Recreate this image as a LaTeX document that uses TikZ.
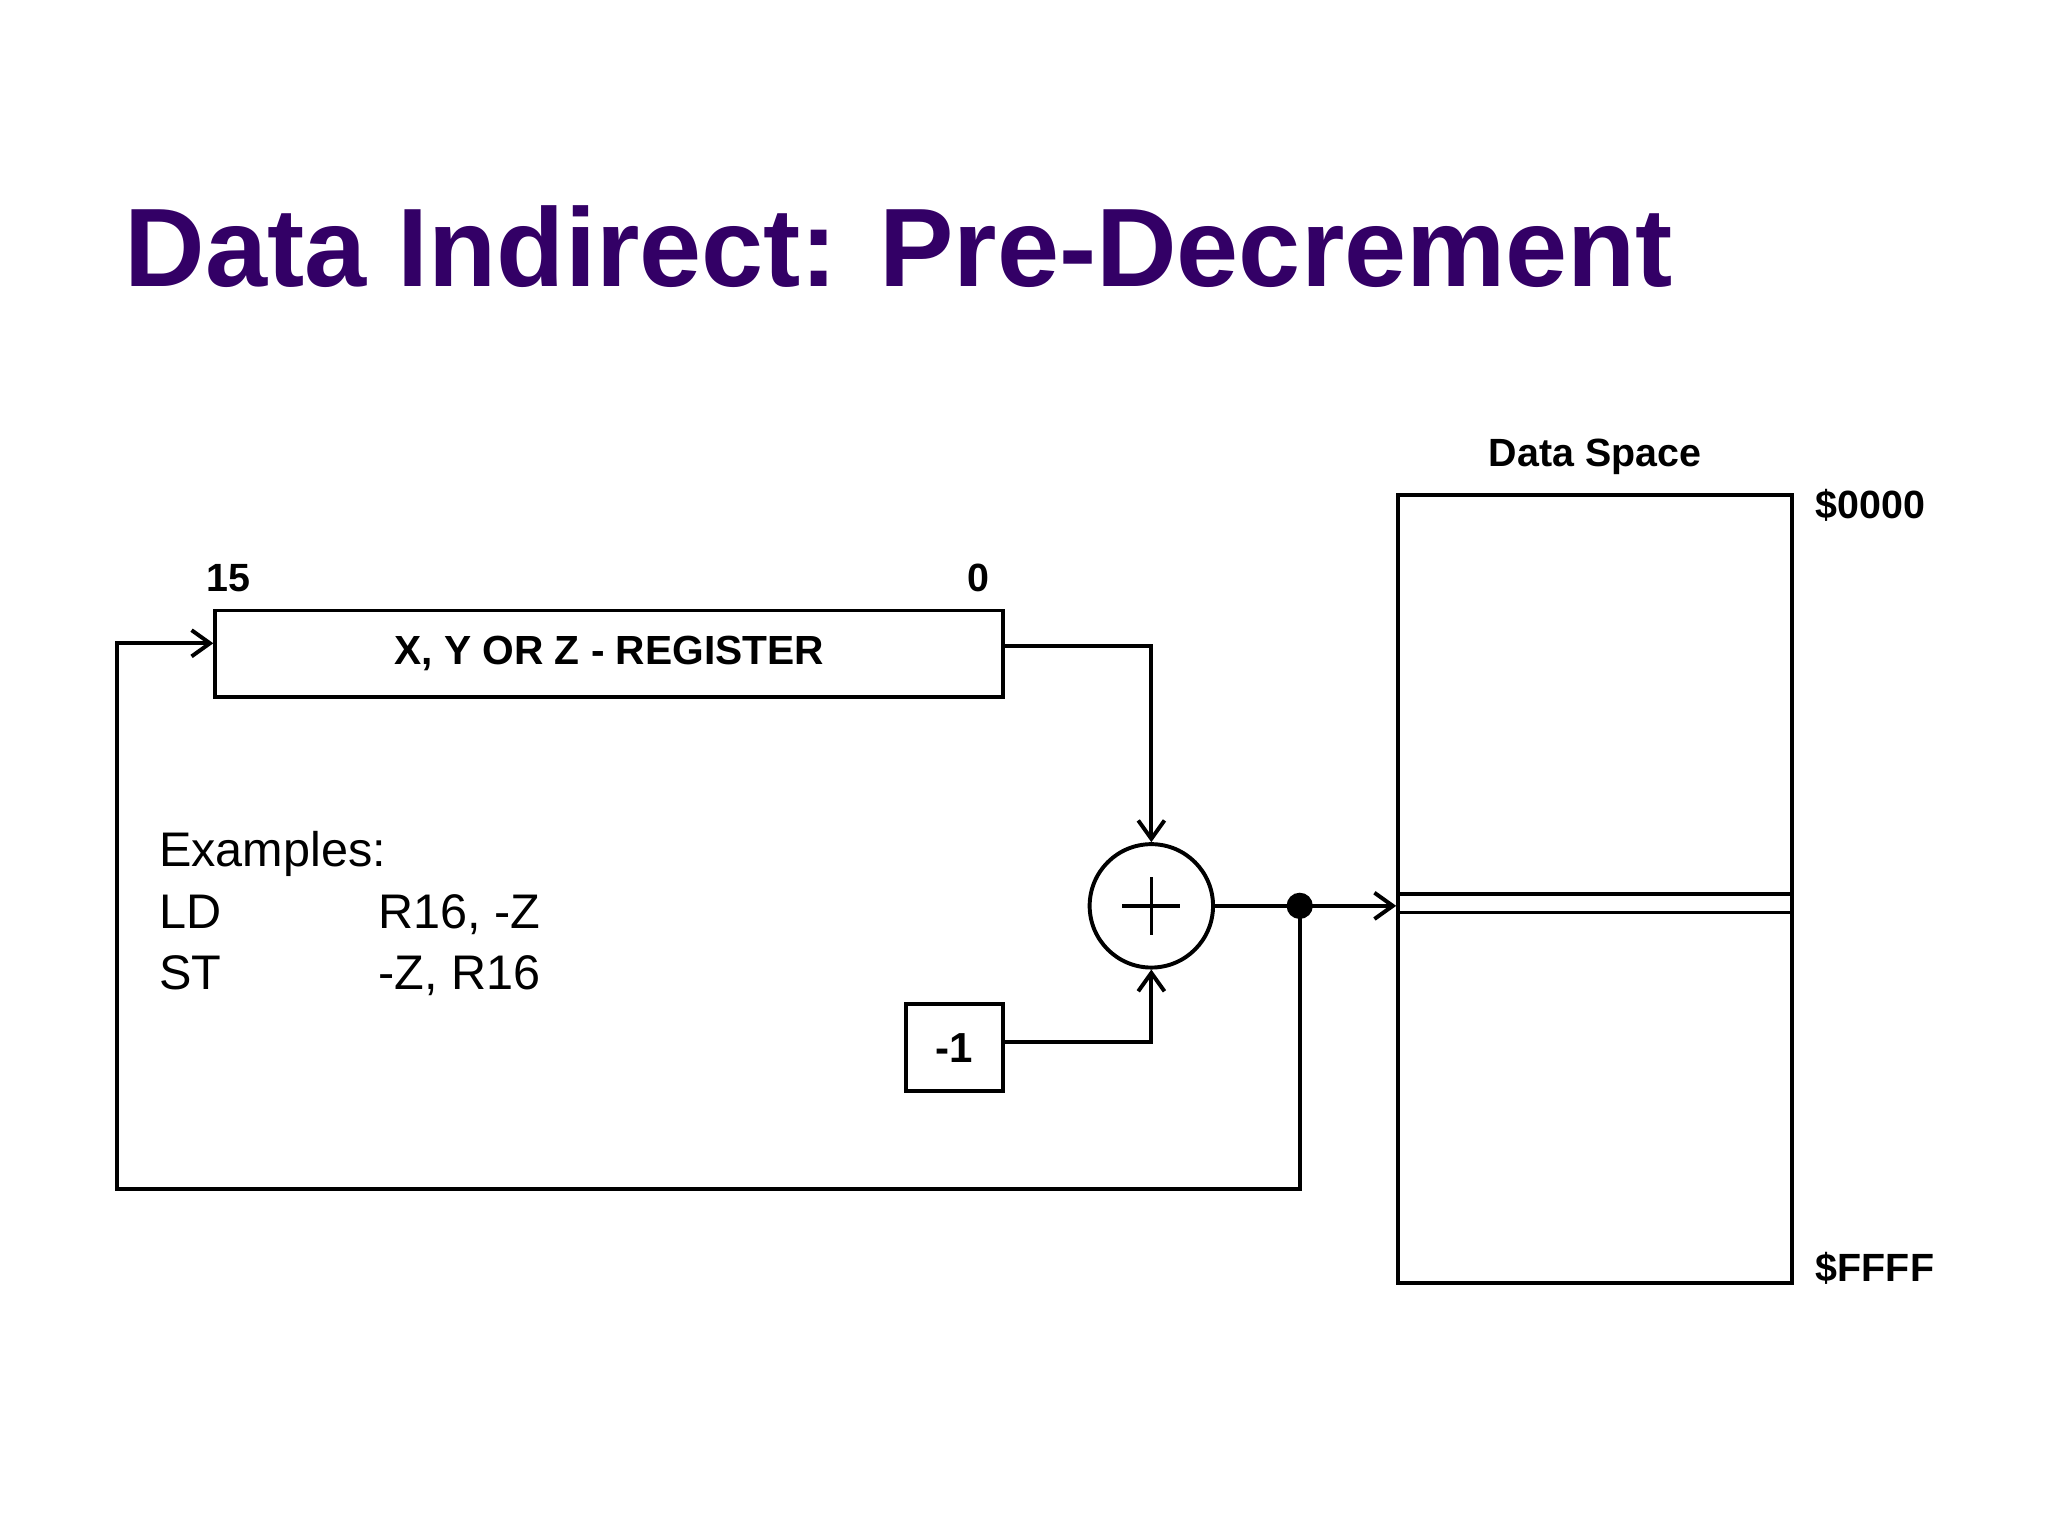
\documentclass[tikz,border=0pt]{standalone}
\usepackage{fontspec}
\setmainfont{Liberation Sans}
\usetikzlibrary{arrows.meta}
\definecolor{ttl}{HTML}{330066}
\begin{document}
\begin{tikzpicture}[x=1pt,y=-1pt,
  ln/.style={line width=3pt},
  arr/.style={ln,-{Straight Barb[length=14pt,width=20pt,line width=3pt]}},
  lbl/.style={font=\fontsize{30}{34}\selectfont\bfseries,inner sep=0pt},
  ex/.style={font=\fontsize{37}{42}\selectfont,anchor=base west,inner sep=0pt}]
\useasboundingbox (0,0) rectangle (1560,1170);
\node[anchor=base west,inner sep=0pt,text=ttl,font=\fontsize{85}{90}\selectfont\bfseries] (title) at (95,218) {Data Indirect: Pre-Decrement};
\node[ln,draw,minimum width=600pt,minimum height=66pt,inner sep=0pt,font=\fontsize{31}{34}\selectfont\bfseries] (reg) at (464,498) {X, Y OR Z - REGISTER};
\node[lbl] (b15) at (174,440) {15};
\node[lbl] (b0) at (745,440) {0};
\node[ln,draw,circle,minimum size=94pt,inner sep=0pt] (sum) at (877,690) {};
\draw[line width=2.5pt] ([xshift=-22pt]sum.center) -- ([xshift=22pt]sum.center) ([yshift=-22pt]sum.center) -- ([yshift=22pt]sum.center);
\node[ln,draw,minimum width=74pt,minimum height=66pt,inner sep=0pt,font=\fontsize{32}{34}\selectfont\bfseries] (m1) at (727,798) {-1};
\node[ln,draw,minimum width=300pt,minimum height=600pt,inner sep=0pt] (mem) at (1215,677) {};
\draw[line width=2.5pt] (mem.west |- 0,681) -- (mem.east |- 0,681) (mem.west |- 0,695) -- (mem.east |- 0,695);
\node[lbl] (ds) at (1215,348) {Data Space};
\node[lbl,anchor=west] (a0) at (1383,385) {\$0000};
\node[lbl,anchor=west] (af) at (1383,966) {\$FFFF};
\coordinate (dot) at (990,690);
\coordinate (fb1) at (990,906);
\coordinate (fb2) at (89,906);
\coordinate (fb3) at (89,490);
\draw[arr] (reg.east |- 0,492) -| (sum.north);
\draw[arr] (m1.east |- 0,794) -| (sum.south);
\draw[arr] (sum.east) -- (mem.west |- sum.east);
\fill (dot) circle (10pt);
\draw[arr] (dot) -- (fb1) -- (fb2) -- (fb3) -- (reg.west |- fb3);
\node[ex] (e0) at (121,660) {Examples:};
\node[ex] (e1) at (121,707) {LD};
\node[ex] (e2) at (288,707) {R16, -Z};
\node[ex] (e3) at (121,754) {ST};
\node[ex] (e4) at (288,754) {-Z, R16};
\end{tikzpicture}
\end{document}
